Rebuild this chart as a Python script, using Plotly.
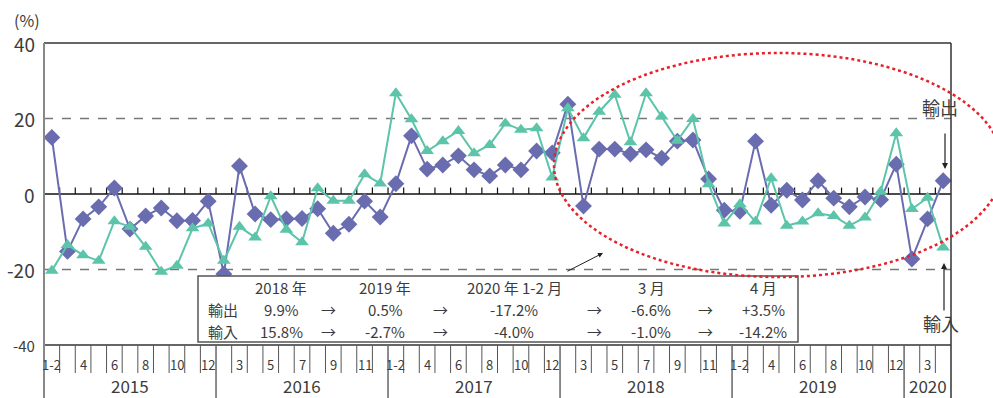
import plotly.graph_objects as go

# ---- data -------------------------------------------------------------
years = ["2015", "2016", "2017", "2018", "2019", "2020"]
months_full = ["1-2", "3", "4", "5", "6", "7", "8", "9", "10", "11", "12"]
months_2020 = ["1-2", "3", "4"]

exports = [
    15.0, -15.2, -6.6, -3.4, 1.6, -9.3, -5.8, -3.7, -7.1, -7.0, -1.9,      # 2015
    -21.2, 7.4, -5.3, -6.8, -6.6, -6.5, -3.9, -10.4, -8.0, -1.9, -6.1,     # 2016
    2.7, 15.4, 6.6, 7.7, 10.1, 6.4, 4.8, 7.7, 6.4, 11.4, 10.9,             # 2017
    23.8, -3.2, 11.9, 11.9, 10.6, 11.7, 9.5, 14.0, 14.3, 4.0, -4.3,        # 2018
    -4.6, 14.0, -3.0, 1.0, -1.6, 3.5, -1.1, -3.4, -0.8, -1.5, 7.9,         # 2019
    -17.2, -6.6, 3.5,                                                      # 2020
]
imports = [
    -20.3, -13.5, -16.2, -17.7, -7.2, -8.7, -14.0, -20.6, -19.0, -9.1, -7.8,
    -17.7, -8.7, -11.5, -0.6, -9.5, -12.8, 1.5, -1.8, -1.8, 5.2, 2.8,
    26.7, 19.8, 11.4, 14.0, 16.7, 10.8, 13.0, 18.7, 17.0, 17.4, 4.4,
    22.7, 14.8, 21.8, 26.3, 13.7, 26.7, 20.5, 14.1, 19.9, 2.6, -7.8,
    -2.7, -7.3, 4.2, -8.4, -7.3, -5.1, -5.8, -8.4, -6.2, 0.6, 16.1,
    -4.0, -1.0, -14.2,
]

y_ticks = [40, 20, 0, -20, -40]

table_header = ["2018 年", "2019 年", "2020 年 1-2 月", "3 月", "4 月"]
table_rows = ["輸出", "輸入"]
export_rates = ["9.9%", "0.5%", "-17.2%", "-6.6%", "+3.5%"]
import_rates = ["15.8%", "-2.7%", "-4.0%", "-1.0%", "-14.2%"]

# ---- category axis ----------------------------------------------------
cat_months = []
cat_years = []
for y in years:
    ms = months_2020 if y == "2020" else months_full
    for m in ms:
        cat_months.append(m)
        cat_years.append(y)
xs = list(range(len(cat_months)))

# ---- page geometry (pixels) -------------------------------------------
W, H = 993, 398
L, R, T, B = 44, 951, 43, 345
PW, PH = R - L, B - T


def px(x):
    return (x - L) / PW


def py(y):
    return (B - y) / PH


TXT = "#3c3c3c"
FONT = "Noto Sans CJK JP, Noto Sans, sans-serif"
NARROW = "Liberation Sans Narrow, Noto Sans CJK JP, sans-serif"
EXP_C = "#6a6cb0"
IMP_C = "#5cc4a9"

fig = go.Figure()
fig.add_trace(go.Scatter(
    x=xs, y=exports, mode="lines+markers", name="輸出",
    line=dict(color=EXP_C, width=2),
    marker=dict(symbol="diamond", size=13, color=EXP_C),
    cliponaxis=False,
))
fig.add_trace(go.Scatter(
    x=xs, y=imports, mode="lines+markers", name="輸入",
    line=dict(color=IMP_C, width=2),
    marker=dict(symbol="triangle-up", size=12, color=IMP_C),
    cliponaxis=False,
))

shapes = []
# dashed reference lines at +-20
for v in (20, -20):
    shapes.append(dict(type="line", xref="paper", yref="y", x0=0, x1=1, y0=v, y1=v,
                       line=dict(color="#777", width=1.5, dash="dash"), layer="below"))
# zero line with small ticks at month boundaries
shapes.append(dict(type="line", xref="paper", yref="y", x0=0, x1=1, y0=0, y1=0,
                   line=dict(color="#111", width=1.5), layer="below"))
for k in range(1, len(xs)):
    shapes.append(dict(type="line", xref="x", yref="y", x0=k - 0.5, x1=k - 0.5, y0=0, y1=1.7,
                       line=dict(color="#111", width=1.2), layer="below"))
# frame
shapes.append(dict(type="line", xref="paper", yref="paper", x0=0, x1=1, y0=1, y1=1,
                   line=dict(color="#333", width=1.5)))
shapes.append(dict(type="line", xref="paper", yref="paper", x0=0, x1=1, y0=0, y1=0,
                   line=dict(color="#333", width=1.5)))
shapes.append(dict(type="line", xref="paper", yref="paper", x0=0, x1=0, y0=1, y1=py(H),
                   line=dict(color="#888", width=2)))
shapes.append(dict(type="line", xref="paper", yref="paper", x0=1, x1=1, y0=1, y1=py(H),
                   line=dict(color="#333", width=1.5)))
# month / year separators under the plot
for k in range(1, len(xs)):
    new_year = cat_years[k] != cat_years[k - 1]
    shapes.append(dict(type="line", xref="x", yref="paper", x0=k - 0.5, x1=k - 0.5,
                       y0=0, y1=py(H) if new_year else py(373),
                       line=dict(color="#666" if new_year else "#555", width=1.5 if new_year else 1)))

# summary table box
shapes.append(dict(type="rect", xref="paper", yref="paper",
                   x0=px(198), x1=px(798), y0=py(342), y1=py(276),
                   line=dict(color="#555", width=1.5), fillcolor="white"))
# highlighted period
shapes.append(dict(type="circle", xref="paper", yref="paper",
                   x0=px(554), x1=px(1003), y0=py(277), y1=py(53),
                   line=dict(color="#e8202a", width=2.5, dash="dot")))

ann = []


def label(x, y, text, size, family=FONT, xref="paper", yref="paper", xanchor="center"):
    ann.append(dict(xref=xref, yref=yref, x=x, y=y, text=text, showarrow=False,
                    xanchor=xanchor, yanchor="middle",
                    font=dict(family=family, size=size, color=TXT)))


# y tick labels
for v in y_ticks:
    label(px(37), v, str(v), 15 if v == -40 else 19, yref="y", xanchor="right")
label(px(27), py(20), "(%)", 16)

# month labels (every other month)
for i, m in enumerate(cat_months):
    if i % 2 == 0:
        label(i, py(365), m, 13, family=NARROW, xref="x")
# year labels
for y in years:
    idx = [i for i, yy in enumerate(cat_years) if yy == y]
    label((idx[0] + idx[-1]) / 2, py(385), y, 17, xref="x")

# table text
col_x = [281, 385, 514, 651, 763]
arrow_x = [328, 440, 594, 705]
row_y = [287, 309, 331]
TS = 15
for cx, t in zip(col_x, table_header):
    label(px(cx), py(row_y[0]), t, TS)
for ry, lab, vals in zip(row_y[1:], table_rows, [export_rates, import_rates]):
    label(px(223), py(ry), lab, TS)
    for cx, t in zip(col_x, vals):
        label(px(cx), py(ry), t, TS)
    for ax_ in arrow_x:
        label(px(ax_), py(ry), "→", TS)

# pointer from table to highlighted period
ann.append(dict(xref="paper", yref="paper", x=px(603), y=py(253), ax=-37, ay=19,
                text="", showarrow=True, arrowhead=2, arrowsize=1, arrowwidth=1,
                arrowcolor="#222"))
# series labels with arrows
label(px(940), py(107), "輸出", 18)
ann.append(dict(xref="paper", yref="paper", x=px(945), y=py(169), ax=0, ay=-37,
                text="", showarrow=True, arrowhead=2, arrowsize=1, arrowwidth=1.2,
                arrowcolor="#222"))
label(px(941), py(323), "輸入", 18)
ann.append(dict(xref="paper", yref="paper", x=px(944), y=py(263), ax=0, ay=49,
                text="", showarrow=True, arrowhead=2, arrowsize=1, arrowwidth=1.2,
                arrowcolor="#222"))

fig.update_layout(
    width=W, height=H,
    margin=dict(l=L, r=W - R, t=T, b=H - B),
    paper_bgcolor="white", plot_bgcolor="white",
    showlegend=False,
    xaxis=dict(range=[-0.5, len(xs) - 0.5], showgrid=False, zeroline=False,
               showticklabels=False, ticks="", showline=False, fixedrange=True),
    yaxis=dict(range=[-40, 40], showgrid=False, zeroline=False,
               showticklabels=False, ticks="", showline=False, fixedrange=True),
    shapes=shapes,
    annotations=ann,
)

fig.write_html("out.html")
